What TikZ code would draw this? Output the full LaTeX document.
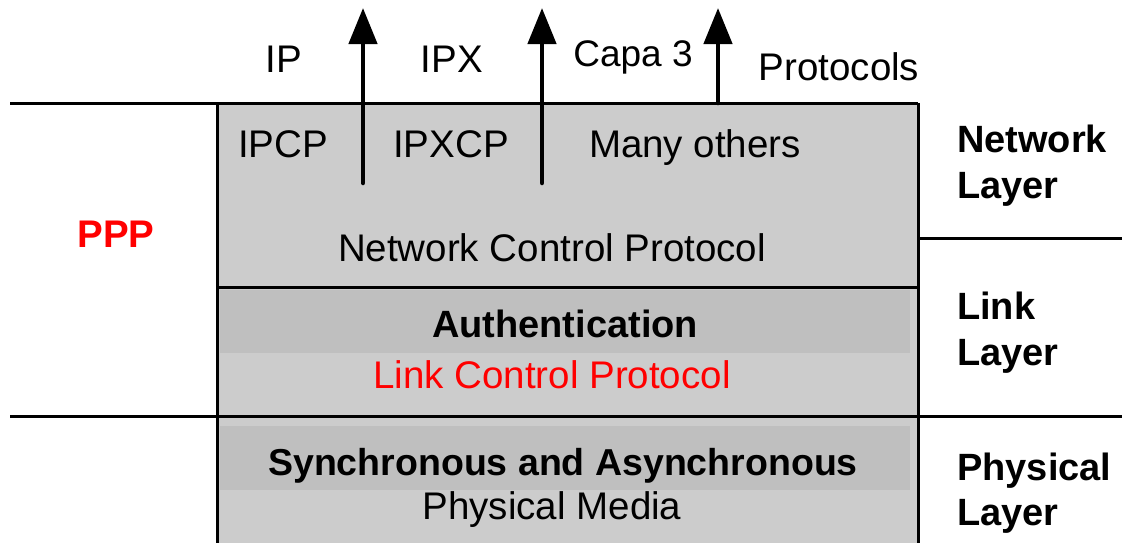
\documentclass[tikz,border=0pt]{standalone}
\usepackage{fontspec}
\setmainfont{Liberation Sans}
\usetikzlibrary{arrows.meta}
\definecolor{boxgray}{HTML}{CCCCCC}
\definecolor{bandgray}{HTML}{BFBFBF}
\definecolor{pppred}{HTML}{FF0000}
\tikzset{
  lbl/.style={font=\fontsize{38.5}{46}\selectfont, inner sep=0pt, anchor=base},
  blbl/.style={font=\fontsize{38.5}{46}\selectfont\bfseries, inner sep=0pt, anchor=base},
  sidelbl/.style={font=\fontsize{38}{46}\selectfont\bfseries, inner sep=0pt, anchor=base west},
  rule/.style={line width=3pt, black},
  uparrow/.style={line width=4.5pt, line cap=round, -{Triangle[length=36pt,width=28pt]}},
}
\begin{document}
\begin{tikzpicture}[x=1pt,y=-1pt]
\useasboundingbox (0,0) rectangle (1122,542);
% box and bands
\fill[boxgray] (217,103) rectangle (918,560);
\fill[bandgray] (220,290) rectangle (910,353);
\fill[bandgray] (220,426) rectangle (910,490);
% rules
\draw[rule] (10,103) -- (918,103);
\draw[rule] (217,103) -- (217,560);
\draw[rule] (918,103) -- (918,560);
\draw[rule] (217,287) -- (918,287);
\draw[rule] (918,238) -- (1122,238);
\draw[rule] (10,416) -- (1122,416);
% upper labels
\node[lbl] (ip) at (284,72) {IP};
\node[lbl] (ipx) at (452,72) {IPX};
\node[lbl, font=\fontsize{37}{44}\selectfont] (capa) at (633,66) {Capa 3};
\node[lbl] (protocols) at (839,80) {Protocols};
% network layer contents
\node[lbl] (ipcp) at (283,157) {IPCP};
\node[lbl] (ipxcp) at (451,157) {IPXCP};
\node[lbl] (many) at (695,157) {Many others};
\node[lbl] (ncp) at (552,261) {Network Control Protocol};
% link layer contents
\node[blbl, font=\fontsize{38}{46}\selectfont\bfseries] (auth) at (565,337) {Authentication};
\node[lbl, text=pppred] (lcp) at (552,388) {Link Control Protocol};
% physical layer contents
\node[blbl, font=\fontsize{37.5}{46}\selectfont\bfseries] (sync) at (563,475) {Synchronous and Asynchronous};
\node[lbl] (media) at (552,519) {Physical Media};
% PPP
\node[blbl, text=pppred] (ppp) at (116,247) {PPP};
% side labels
\node[sidelbl] (netA) at (957,152) {Network};
\node[sidelbl] (netB) at (957,198) {Layer};
\node[sidelbl] (linkA) at (957,319) {Link};
\node[sidelbl] (linkB) at (957,365) {Layer};
\node[sidelbl] (phyA) at (957,480) {Physical};
\node[sidelbl] (phyB) at (957,525) {Layer};
% arrows
\coordinate (a1s) at (363,183);
\coordinate (a1e) at (363,8);
\coordinate (a2s) at (542,183);
\coordinate (a2e) at (542,8);
\coordinate (a3s) at (718,103);
\coordinate (a3e) at (718,8);
\draw[uparrow] (a1s) -- (a1e);
\draw[uparrow] (a2s) -- (a2e);
\draw[uparrow] (a3s) -- (a3e);
\end{tikzpicture}
\end{document}
